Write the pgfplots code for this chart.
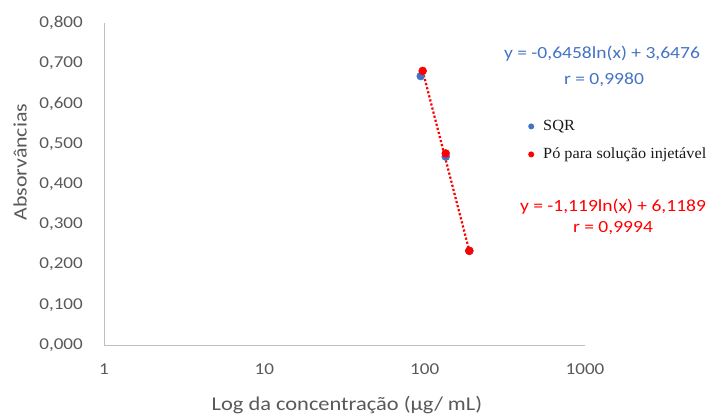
\documentclass[border=0pt]{standalone}
\usepackage{pgfplots}
\pgfplotsset{compat=1.18}
\usepackage{fontspec}
\setmainfont{Carlito}[FakeStretch=1.15]
\newfontfamily\legendfont{Liberation Serif}[FakeStretch=1.05]
\definecolor{sqrblue}{HTML}{4472C4}
\definecolor{pored}{HTML}{FF0000}
\definecolor{axisgray}{HTML}{BFBFBF}
\definecolor{labelgray}{HTML}{595959}

% SQR standard (x: concentration, y: absorbance)
\pgfplotstableread{
x      y
94.5   0.668
135.3  0.468
190.0  0.234
}\sqrdata
% Injectable powder sample
\pgfplotstableread{
x      y
97.2   0.681
135.3  0.476
189.8  0.234
}\podata

\begin{document}
\begin{tikzpicture}
\path[use as bounding box] (0,0) rectangle (712pt,417pt);
\begin{axis}[
  at={(104pt,72pt)}, anchor=south west,
  scale only axis, width=481pt, height=322pt,
  xmode=log, xmin=1, xmax=1000,
  ymin=0, ymax=0.8,
  xtick={1,10,100,1000}, xticklabels={1,10,100,1000},
  minor xtick={},
  ytick={0,0.1,0.2,0.3,0.4,0.5,0.6,0.7,0.8},
  axis x line=bottom, axis y line=left,
  axis line style={-, draw=axisgray, line width=0.9pt},
  major tick length=0pt, minor tick length=0pt,
  tick style={draw=none},
  /pgf/number format/assume math mode=true,
  y tick label style={/pgf/number format/fixed, /pgf/number format/fixed zerofill,
    /pgf/number format/precision=3, /pgf/number format/use comma},
  yticklabel style={font=\fontsize{16.6}{19}\selectfont, color=labelgray,
    anchor=east, inner sep=0pt, xshift=-21pt},
  xticklabel style={font=\fontsize{16.6}{19}\selectfont, color=labelgray,
    anchor=base, inner sep=0pt, yshift=-30pt},
  xlabel={Log da concentração (µg/ mL)},
  xlabel style={font=\fontsize{19.5}{22}\selectfont, color=labelgray,
    at={(axis description cs:0.505,0)}, anchor=base, inner sep=0pt, yshift=-66pt},
  ylabel={Absorvâncias},
  ylabel style={font=\fontsize{19}{22}\selectfont, color=labelgray,
    at={(axis description cs:-0.1746,0.568)}, anchor=center, inner sep=0pt},
  clip=false,
  legend style={at={(axis description cs:0.8815,0.702)}, anchor=north west,
    draw=none, fill=none, inner sep=0pt, row sep=13.5pt,
    font=\legendfont\fontsize{15.5}{18}\selectfont, text=black!90,
    nodes={inner sep=0pt, text height=11pt, text depth=3.5pt}},
  legend cell align=left,
]
% trend line of the sample series
\addplot[pored, line width=2.2pt, dash pattern=on 2.2pt off 2pt, forget plot]
  coordinates {(97.2,0.681) (189.8,0.234)};
% measured points
\addplot[only marks, mark=*, mark size=4pt, color=sqrblue,
  legend image code/.code={\fill[draw=none] (3pt,0pt) circle (3pt);
    \path[draw=none, fill=none] (0pt,0pt) -- (15pt,0pt);}]
  table[x=x,y=y] {\sqrdata};
\addlegendentry{SQR}
\addplot[only marks, mark=*, mark size=4pt, color=pored,
  legend image code/.code={\fill[draw=none] (3pt,0pt) circle (3pt);
    \path[draw=none, fill=none] (0pt,0pt) -- (15pt,0pt);}]
  table[x=x,y=y] {\podata};
\addlegendentry{Pó para solução injetável}
\end{axis}
% regression equations
\node[sqrblue, anchor=base, inner sep=0pt, font=\fontsize{17}{20}\selectfont] at (602pt,358pt) {y = -0,6458ln(x) + 3,6476};
\node[sqrblue, anchor=base, inner sep=0pt, font=\fontsize{17}{20}\selectfont] at (604pt,332pt) {r = 0,9980};
\node[pored, anchor=base, inner sep=0pt, font=\fontsize{17}{20}\selectfont] at (613pt,205pt) {y = -1,119ln(x) + 6,1189};
\node[pored, anchor=base, inner sep=0pt, font=\fontsize{17}{20}\selectfont] at (613pt,184pt) {r = 0,9994};
\end{tikzpicture}
\end{document}
